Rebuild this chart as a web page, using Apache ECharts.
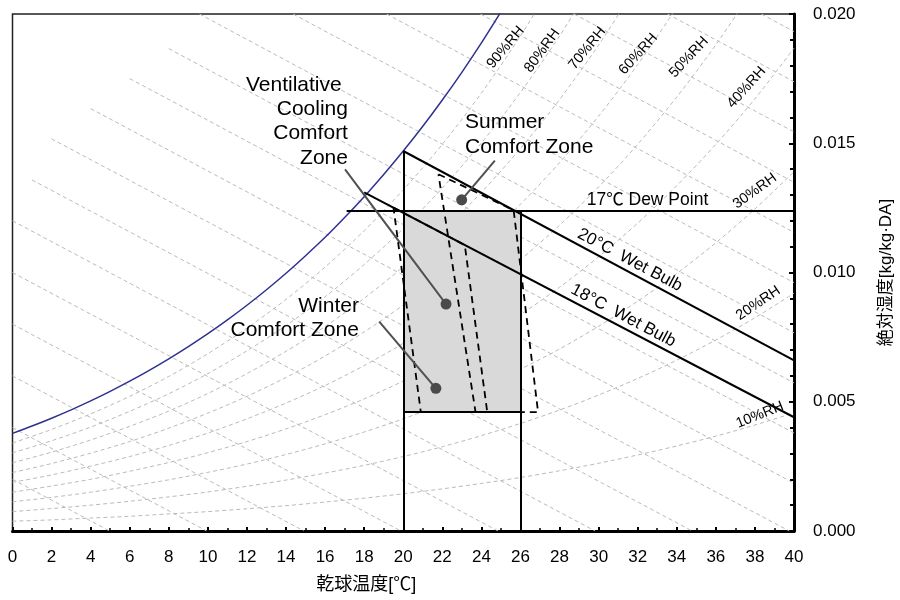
<!DOCTYPE html>
<html><head><meta charset="utf-8">
<script src="https://cdn.jsdelivr.net/npm/echarts@6/dist/echarts.min.js"></script>
<style>html,body{margin:0;padding:0;background:#fff}#c{width:900px;height:600px}</style>
</head><body><div id="c"></div>
<script>
// ---------- data ----------
const tempGrid = [0,2,4,6,8,10,12,14,16,18,20,22,24,26,28,30,32,34,36,38,40];
const rhLabels = ['10%RH','20%RH','30%RH','40%RH','50%RH','60%RH','70%RH','80%RH','90%RH'];
const rh10 = [0.00038,0.00043,0.00050,0.00057,0.00066,0.00075,0.00086,0.00098,0.00112,0.00127,0.00144,0.00163,0.00184,0.00207,0.00233,0.00262,0.00294,0.00329,0.00367,0.00410,0.00457];
const rh20 = [0.00075,0.00087,0.00100,0.00115,0.00132,0.00151,0.00173,0.00197,0.00224,0.00254,0.00288,0.00326,0.00369,0.00416,0.00468,0.00526,0.00590,0.00661,0.00739,0.00825,0.00920];
const rh30 = [0.00113,0.00130,0.00150,0.00173,0.00198,0.00227,0.00259,0.00296,0.00337,0.00383,0.00434,0.00491,0.00555,0.00626,0.00704,0.00792,0.00889,0.00996,0.01115,0.01246,0.01390];
const rh40 = [0.00150,0.00174,0.00200,0.00231,0.00265,0.00303,0.00346,0.00395,0.00450,0.00511,0.00580,0.00656,0.00742,0.00837,0.00943,0.01061,0.01191,0.01336,0.01496,0.01672,0.01868];
const rh50 = [0.00188,0.00217,0.00251,0.00288,0.00331,0.00379,0.00434,0.00495,0.00563,0.00640,0.00726,0.00823,0.00930,0.01050,0.01183,0.01331,0.01496,0.01679,0.01881,0.02105];
const rh60 = [0.00226,0.00261,0.00301,0.00346,0.00398,0.00456,0.00521,0.00594,0.00677,0.00770,0.00874,0.00990,0.01119,0.01264,0.01425,0.01605,0.01804,0.02025];
const rh70 = [0.00264,0.00305,0.00352,0.00405,0.00464,0.00532,0.00609,0.00695,0.00791,0.00900,0.01022,0.01158,0.01310,0.01480,0.01669,0.01880,0.02115];
const rh80 = [0.00302,0.00349,0.00402,0.00463,0.00531,0.00609,0.00697,0.00795,0.00906,0.01031,0.01170,0.01327,0.01501,0.01697,0.01915,0.02158];
const rh90 = [0.00340,0.00393,0.00453,0.00521,0.00598,0.00686,0.00785,0.00896,0.01021,0.01162,0.01320,0.01496,0.01694,0.01915,0.02162];
const rhCurves = [rh10,rh20,rh30,rh40,rh50,rh60,rh70,rh80,rh90];

const satTemps = [0,1,2,3,4,5,6,7,8,9,10,11,12,13,14,15,16,17,18,19,20,21,22,23,24,25];
const satW = [0.003775,0.004060,0.004364,0.004688,0.005034,0.005403,0.005795,0.006213,0.006657,0.007129,0.007631,0.008165,0.008732,0.009333,0.009970,0.010650,0.011362,0.012129,0.012935,0.013791,0.014697,0.015656,0.016671,0.017744,0.018881,0.020084];

// constant-enthalpy lines (5 kJ/kg steps): start and end points
const enthalpyLines = [
  [[0,0.00200],[4.97,0]], [[0,0.00400],[9.94,0]], [[0,0.00600],[14.91,0]],
  [[0,0.00800],[19.88,0]], [[0,0.01000],[24.85,0]], [[0,0.01200],[29.82,0]],
  [[1,0.01358],[34.79,0]], [[2,0.01517],[39.76,0]], [[4,0.01634],[40,0.00185]],
  [[6,0.01750],[40,0.00379]], [[8,0.01866],[40,0.00573]], [[9.57,0.02],[40,0.00767]],
  [[14.36,0.02],[40,0.00961]], [[19.15,0.02],[40,0.01155]], [[23.95,0.02],[40,0.01349]],
  [[28.74,0.02],[40,0.01544]], [[33.53,0.02],[40,0.01738]], [[38.33,0.02],[40,0.01932]]
];

const vLine20 = [[20,0],[20,0.0147]];
const vLine26 = [[26,0],[26,0.0124]];
const dewPointLine = [[17.1,0.0124],[40,0.0124]];
const boxBottom = [[20,0.0046],[26,0.0046]];
const wetBulb20 = [[20,0.0147],[40,0.0066]];
const wetBulb18 = [[18,0.0131],[40,0.0044]];
const comfortBox = [20,26,0.0046,0.0124];
const summerZone = [[21.8,0.0138],[25.65,0.01241],[26.9,0.0046],[23.7,0.0046],[21.8,0.0138]];
const winterZone = [[19.5,0.01251],[23.15,0.01106],[24.3,0.0046],[20.9,0.0046],[19.5,0.01251]];

const leaderSummer = [[24.69,0.01433],[22.99,0.01281]];
const leaderVent = [[17.02,0.01399],[22.19,0.00878]];
const leaderWinter = [[18.77,0.0081],[21.67,0.00552]];
const leaderLines = [leaderSummer, leaderVent, leaderWinter];

const annotationTexts = ['Ventilative','Cooling','Comfort','Zone','Summer','Comfort Zone','Winter','Comfort Zone',
  '17℃ Dew Point','20°C  Wet Bulb','18°C  Wet Bulb'];

// ---------- layout of annotations (data-coordinate anchors) ----------
const annotationLayout = [
  {at:[16.85,0.01725], align:'right', size:21, rot:0},
  {at:[17.17,0.01631], align:'right', size:21, rot:0},
  {at:[17.17,0.01538], align:'right', size:21, rot:0},
  {at:[17.17,0.01443], align:'right', size:21, rot:0},
  {at:[23.16,0.01580], align:'left', size:21, rot:0},
  {at:[23.16,0.01484], align:'left', size:21, rot:0},
  {at:[17.73,0.00870], align:'right', size:21, rot:0},
  {at:[17.73,0.00776], align:'right', size:21, rot:0},
  {at:[32.50,0.01281], align:'center', size:17.5, rot:0},
  {at:[31.60,0.01048], align:'center', size:17, rot:-28},
  {at:[31.26,0.00833], align:'center', size:17, rot:-28}
];
const rhLabelLayout = [
  {at:[38.25,0.00449], rot:22},
  {at:[38.17,0.00881], rot:34},
  {at:[38.00,0.01315], rot:36},
  {at:[37.57,0.01716], rot:48},
  {at:[34.62,0.01833], rot:47},
  {at:[32.03,0.01845], rot:48},
  {at:[29.42,0.01867], rot:51},
  {at:[27.11,0.01858], rot:54},
  {at:[25.24,0.01871], rot:50}
];

const FONT = '"Liberation Sans", Arial, "Noto Sans CJK JP", sans-serif';
const GRAY = '#bababa';
const chart = echarts.init(document.getElementById('c'), null, {renderer:'canvas'});
const series = [];

series.push({type:'lines', coordinateSystem:'cartesian2d', silent:true, z:1,
  data: enthalpyLines.map(c => ({coords:c})),
  lineStyle:{color:GRAY, width:1, type:[4,3], opacity:1}});

rhCurves.forEach(arr => series.push({type:'line', silent:true, z:1, clip:true,
  showSymbol:false, symbol:'none', smooth:0.3,
  data: arr.map((w,i) => [tempGrid[i], w]),
  lineStyle:{color:GRAY, width:1, type:[4,3]}}));

series.push({type:'line', silent:true, z:2, clip:true, showSymbol:false, symbol:'none', smooth:0.3,
  data: satTemps.map((t,i) => [t, satW[i]]),
  lineStyle:{color:'#2e3192', width:1.5}});

series.push({type:'custom', silent:true, z:3, data:[comfortBox],
  renderItem: (params, api) => {
    const a = api.coord([api.value(0), api.value(2)]);
    const b = api.coord([api.value(1), api.value(3)]);
    return {type:'rect', shape:{x:a[0], y:b[1], width:b[0]-a[0], height:a[1]-b[1]},
      style:{fill:'#d9d9d9'}};
  }});

series.push({type:'lines', coordinateSystem:'cartesian2d', silent:true, z:4,
  data:[vLine20, vLine26, dewPointLine, boxBottom, wetBulb20, wetBulb18].map(c => ({coords:c})),
  lineStyle:{color:'#000', width:2, opacity:1}});

[summerZone, winterZone].forEach(z => series.push({type:'line', silent:true, z:5, showSymbol:false, symbol:'none',
  data:z, lineStyle:{color:'#000', width:1.8, type:[7,5]}}));

series.push({type:'lines', coordinateSystem:'cartesian2d', silent:true, z:6,
  data: leaderLines.map(c => ({coords:c})),
  lineStyle:{color:'#505050', width:2, opacity:1}});
series.push({type:'scatter', silent:true, z:7, symbolSize:11,
  data: leaderLines.map(c => c[1]), itemStyle:{color:'#4a4a4a', opacity:1}});

series.push({type:'scatter', silent:true, z:8, symbolSize:0, itemStyle:{opacity:1},
  data: annotationTexts.map((t,i) => ({value:annotationLayout[i].at,
    label:{show:true, position:'inside', formatter:t, align:annotationLayout[i].align,
      verticalAlign:'middle', rotate:annotationLayout[i].rot, fontSize:annotationLayout[i].size,
      color:'#000', opacity:1, fontFamily:FONT}}))});

series.push({type:'scatter', silent:true, z:8, symbolSize:0, itemStyle:{opacity:1},
  data: rhLabels.map((t,i) => ({value:rhLabelLayout[i].at,
    label:{show:true, position:'inside', formatter:t, align:'center', verticalAlign:'middle',
      rotate:rhLabelLayout[i].rot, fontSize:14.5, color:'#000', opacity:1, fontFamily:FONT}}))});

chart.setOption({
  animation:false,
  backgroundColor:'#fff',
  grid:{left:12.5, right:106, top:14, bottom:69, show:true, borderColor:'#222', borderWidth:1.5,
    backgroundColor:'transparent', containLabel:false, outerBoundsMode:'none'},
  xAxis:{type:'value', min:0, max:40, interval:2,
    axisLine:{show:true, onZero:false, lineStyle:{color:'#000', width:3}},
    axisTick:{show:true, inside:true, length:4, lineStyle:{color:'#000', width:2}},
    minorTick:{show:true, splitNumber:2, length:3, lineStyle:{color:'#000', width:1.5}},
    splitLine:{show:false},
    axisLabel:{color:'#000', fontSize:17, margin:18, fontFamily:FONT},
    name:'乾球温度[℃]', nameLocation:'middle', nameGap:45,
    nameTextStyle:{color:'#000', fontSize:18, fontFamily:FONT, padding:[0,74,0,0]}},
  yAxis:{type:'value', position:'right', min:0, max:0.02, interval:0.005,
    axisLine:{show:true, onZero:false, lineStyle:{color:'#000', width:3}},
    axisTick:{show:true, inside:true, length:5, lineStyle:{color:'#000', width:2}},
    minorTick:{show:true, splitNumber:5, length:4, lineStyle:{color:'#000', width:2}},
    splitLine:{show:false},
    axisLabel:{color:'#000', fontSize:17, margin:19, fontFamily:FONT, formatter:v => v.toFixed(3)},
    name:'絶対湿度[kg/kg·DA]', nameLocation:'middle', nameGap:84, nameRotate:90,
    nameTextStyle:{color:'#000', fontSize:17, fontFamily:FONT}},
  series
});
</script></body></html>
